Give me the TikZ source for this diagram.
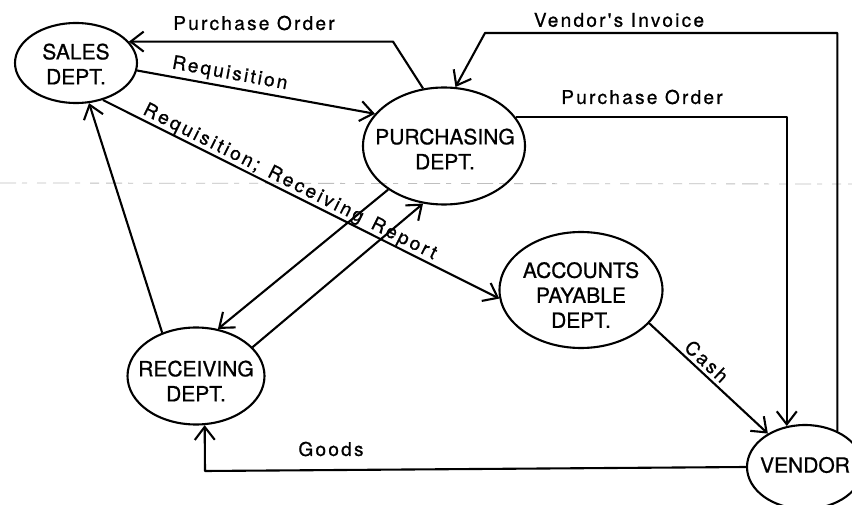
\documentclass[tikz,border=0pt]{standalone}
\usepackage{fontspec}
\setmainfont[FakeBold=0.6]{TeX Gyre Heros}
\newfontfamily\deptfont[FakeBold=0.8]{TeX Gyre Heros}
\newfontfamily\labfont[LetterSpace=12,FakeBold=0.8]{TeX Gyre Heros}
\newfontfamily\widelabfont[LetterSpace=14,FakeBold=0.8]{TeX Gyre Heros}
\usetikzlibrary{shapes.geometric,arrows.meta}
\begin{document}
\begin{tikzpicture}[x=1pt,y=-1pt,
  dept/.style={draw, ellipse, line width=2.1pt, inner sep=0pt},
  depttext/.style={align=center, font=\deptfont\fontsize{21}{25}\selectfont, inner sep=0pt},
  lab/.style={font=\labfont\fontsize{19}{22}\selectfont, inner sep=0pt},
  widelab/.style={font=\widelabfont\fontsize{19}{22}\selectfont, inner sep=0pt},
  conn/.style={line width=2.1pt, line join=round},
  arr/.style={conn, -{Straight Barb[length=13pt,width=20pt]}},
  scanline/.style={gray!50, line width=0.8pt, dash pattern=on 16pt off 6pt on 5pt off 10pt on 9pt off 7pt}
]
\fill[white] (0,0) rectangle (852,505);
\useasboundingbox (0,0) rectangle (852,505);

% faint scan line
\coordinate (sl1) at (0,183);
\coordinate (sl2) at (852,184);
\draw[scanline] (sl1) -- (sl2);

% departments
\node[dept, minimum width=122pt, minimum height=80pt] (sales) at (76,63) {};
\node[depttext] (salesT) at (76,64) {SALES\\DEPT.};
\node[dept, minimum width=162pt, minimum height=117pt] (purch) at (444,146) {};
\node[depttext] (purchT) at (445,149) {PURCHASING\\DEPT.};
\node[dept, minimum width=163pt, minimum height=116pt] (acct) at (581,290) {};
\node[depttext] (acctT) at (581,295) {ACCOUNTS\\PAYABLE\\DEPT.};
\node[dept, minimum width=137pt, minimum height=97pt] (recv) at (196,376) {};
\node[depttext] (recvT) at (196,381) {RECEIVING\\DEPT.};
\node[dept, minimum width=116pt, minimum height=84pt] (vendor) at (805,467) {};
\node[depttext] (vendorT) at (805,465) {VENDOR};

% connectors
\coordinate (poA) at (393,42);
\draw[arr] (purch.110) -- (poA |- sales.22) -- (sales.22);
\draw[arr] (sales.-7) -- node[lab, sloped, above=3pt, pos=0.38] (lReq) {Requisition} (purch.155);
\draw[arr] (sales.-54) -- node[widelab, sloped, above=0pt, pos=0.46] (lRR) {Requisition;\hspace{11pt}Receiving\hspace{11pt}Report} (acct.186);
\draw[arr] (recv.128) -- (sales.-72);
\draw[arr] (purch.218) -- (recv.65);
\draw[arr] (recv.27) -- (purch.250);
\draw[arr] (purch.22) -- (vendor.114 |- purch.22) -- (vendor.114);
\coordinate (viA) at (485,33);
\draw[arr] (vendor.48) -- (vendor.48 |- viA) -- (viA) -- (purch.79);
\draw[arr] (acct.-26) -- node[lab, sloped, above=3pt, pos=0.42] (lCash) {Cash} (vendor.138);
\coordinate (gA) at (205,471);
\draw[arr] (vendor.180) -- (gA) -- (recv.-80);

% labels
\node[lab] (lPO1) at (254,23) {Purchase Order};
\node[lab] (lVI) at (619,20) {Vendor's Invoice};
\node[lab] (lPO2) at (642,97) {Purchase Order};
\node[lab] (lGoods) at (331,449) {Goods};
\end{tikzpicture}
\end{document}
